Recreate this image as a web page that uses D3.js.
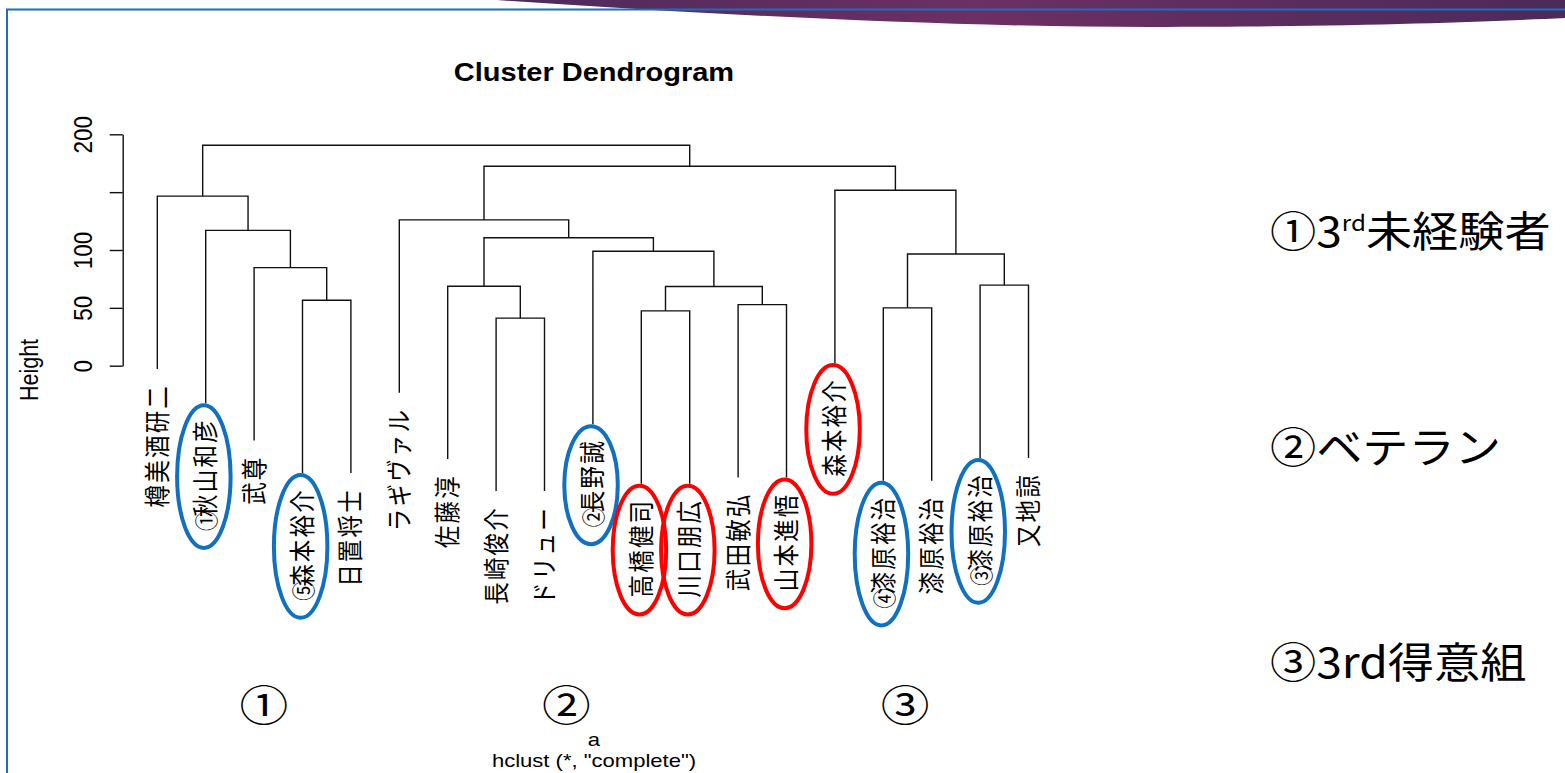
<!DOCTYPE html>
<html>
<head>
<meta charset="utf-8">
<script src="https://cdn.jsdelivr.net/npm/d3@7"></script>
<style>
  body { margin: 0; background: #fff; }
  svg { display: block; }
</style>
</head>
<body>
<div id="chart"></div>
<script>
// leaves in plotted order (1-based in mergePairs, negative = leaf)
var leafLabels = ['樽美酒研二', '①秋山和彦', '武尊', '⑤森本裕介', '日置将士',
    'ラギヴァル', '佐藤淳', '長崎俊介', 'ドリュー', '②長野誠',
    '高橋健司', '川口朋広', '武田敏弘', '山本進悟', '森本裕介',
    '④漆原裕治', '漆原裕治', '③漆原裕治', '又地諒'];

// R hclust style merge table: negative = leaf, positive = earlier merge
var mergePairs = [[-8, -9], [-11, -12], [-16, -17], [-13, -14], [-4, -5],
    [2, 4], [-7, 1], [-18, -19], [-3, 5], [3, 8],
    [-10, 6], [7, 11], [-2, 9], [-6, 12], [-1, 13],
    [-15, 10], [14, 16], [15, 17]];
var mergeHeights = [41.1, 47.4, 50.0, 52.8, 56.6,
    68.4, 68.7, 69.6, 84.8, 96.5,
    98.9, 110.6, 117.0, 126.0, 146.6,
    151.7, 172.4, 190.5];

var yTicks = [0, 50, 100, 150, 200];
var yTickLabels = ['0', '50', '100', '', '200'];

var blueRinged = [2, 4, 10, 16, 18];
var redRinged = [11, 12, 14, 15];

var groupLabels = ['①', '②', '③'];
var groupAt = [3.2, 9.45, 16.45];   // in leaf units

var sideNotes = [['①3', 'rd', '未経験者'], ['②ベテラン', '', ''], ['③3rd得意組', '', '']];

var W = 1565, H = 773;
var sx = 1.16; // the slide picture is a bit stretched sideways

var svg = d3.select('#chart').append('svg')
    .attr('width', W)
    .attr('height', H);

// slide decoration
var grad = svg.append('defs').append('linearGradient')
    .attr('id', 'swoosh')
    .attr('x1', 0).attr('x2', 1).attr('y1', 0).attr('y2', 0);
grad.append('stop').attr('offset', '0%').attr('stop-color', '#4c2a5b');
grad.append('stop').attr('offset', '45%').attr('stop-color', '#6d2f64');
grad.append('stop').attr('offset', '100%').attr('stop-color', '#4b2a5a');

svg.append('path')
    .attr('d', 'M497,0 C700,14 950,27 1150,27 C1350,27 1480,22 1565,18 L1565,0 Z')
    .attr('fill', 'url(#swoosh)');

svg.append('path')
    .attr('d', 'M7,773 V9.5 H1565')
    .attr('fill', 'none')
    .attr('stroke', '#1a6fc0')
    .attr('stroke-width', 2);

var x = d3.scaleLinear().domain([1, leafLabels.length]).range([157.3, 1028.5]);
var y = d3.scaleLinear().domain([0, 200]).range([365.7, 134.3]);

var hang = d3.max(mergeHeights) - d3.min(mergeHeights);

// node positions
var nodeX = [];
function childX(c) { return c < 0 ? x(-c) : nodeX[c - 1]; }
mergePairs.forEach(function(p, i) {
    nodeX[i] = (childX(p[0]) + childX(p[1])) / 2;
});

var leafEnd = [];
mergePairs.forEach(function(p, i) {
    p.forEach(function(c) {
        if (c < 0) leafEnd[-c] = mergeHeights[i] - hang;
    });
});

function childY(c, h) { return c < 0 ? h - hang : mergeHeights[c - 1]; }

svg.append('g')
    .selectAll('path')
    .data(mergePairs)
    .enter()
    .append('path')
    .attr('fill', 'none')
    .attr('stroke', '#111')
    .attr('stroke-width', 1.4)
    .attr('d', function(p, i) {
        var h = mergeHeights[i];
        return 'M' + childX(p[0]) + ',' + y(childY(p[0], h)) +
            'V' + y(h) + 'H' + childX(p[1]) + 'V' + y(childY(p[1], h));
    });

// leaf labels
var circled = /^[\u2460-\u2473]/;
var labels = svg.append('g')
    .selectAll('g')
    .data(leafLabels)
    .enter()
    .append('g')
    .attr('transform', function(d, i) {
        return 'translate(' + x(i + 1) + ',' + (y(leafEnd[i + 1]) + 15) + ') scale(' + sx + ',1) rotate(-90)';
    });

var labelText = labels.append('text')
    .attr('text-anchor', 'end')
    .attr('dy', '0.36em')
    .attr('font-family', '"Noto Sans CJK JP", sans-serif')
    .attr('font-size', 22.5)
    .attr('letter-spacing', 2.2)
    .attr('fill', '#000');

labelText.each(function(d) {
    var t = d3.select(this);
    if (circled.test(d)) {
        t.append('tspan').attr('font-size', 20).attr('letter-spacing', 0).text(d[0]);
        t.append('tspan').attr('dx', -6).text(d.slice(1));
    } else {
        t.text(d);
    }
});

// rings round chosen labels
var svgRect = svg.node().getBoundingClientRect();
function ring(list, colour) {
    list.forEach(function(k) {
        var r = labelText.nodes()[k - 1].getBoundingClientRect();
        svg.append('ellipse')
            .attr('cx', r.left - svgRect.left + r.width / 2)
            .attr('cy', r.top - svgRect.top + r.height / 2 + 2)
            .attr('rx', r.width / 2 + 8)
            .attr('ry', r.height / 2 + 15)
            .attr('fill', 'none')
            .attr('stroke', colour)
            .attr('stroke-width', 4);
    });
}
ring(blueRinged, '#1170c0');
ring(redRinged, '#ff0000');

// y axis
var axis = d3.axisLeft(y)
    .tickValues(yTicks)
    .tickSize(13)
    .tickSizeOuter(0)
    .tickFormat(function(d, i) { return yTickLabels[i]; });

var gAxis = svg.append('g')
    .attr('transform', 'translate(122.7,0)')
    .call(axis);
gAxis.select('.domain').attr('stroke', '#111').attr('stroke-width', 1.4);
gAxis.selectAll('.tick line').attr('stroke', '#111').attr('stroke-width', 1.4);
gAxis.selectAll('.tick text')
    .attr('dy', null)
    .attr('text-anchor', 'middle')
    .attr('transform', 'translate(-31,0) scale(' + sx + ',1) rotate(-90)')
    .attr('x', 0)
    .attr('y', 0)
    .attr('fill', '#000')
    .attr('font-family', '"Liberation Sans", Arial, sans-serif')
    .attr('font-size', 22.5);

function stretchedText(px, py, str, size, weight, family) {
    return svg.append('g')
        .attr('transform', 'translate(' + px + ',' + py + ') scale(' + sx + ',1)')
        .append('text')
        .attr('text-anchor', 'middle')
        .attr('font-family', family || '"Liberation Sans", Arial, sans-serif')
        .attr('font-size', size)
        .attr('font-weight', weight || 'normal')
        .attr('fill', '#000')
        .text(str);
}

stretchedText(594, 81, 'Cluster Dendrogram', 25, 'bold');
stretchedText(594, 746, 'a', 19);
stretchedText(594, 767, 'hclust (*, "complete")', 19);

svg.append('g')
    .attr('transform', 'translate(38,370) scale(' + sx + ',1) rotate(-90)')
    .append('text')
    .attr('text-anchor', 'middle')
    .attr('font-family', '"Liberation Sans", Arial, sans-serif')
    .attr('font-size', 21.5)
    .attr('fill', '#000')
    .text('Height');

// group marks under the tree
groupLabels.forEach(function(g, i) {
    stretchedText(x(groupAt[i]), 721, g, 42, 'normal', '"Noto Sans CJK JP", sans-serif');
});

// notes on the right
var noteY = d3.scalePoint().domain(d3.range(sideNotes.length)).range([247, 678]);
sideNotes.forEach(function(n, i) {
    var t = svg.append('g')
        .attr('transform', 'translate(1270,' + noteY(i) + ') scale(1.1,1)')
        .append('text')
        .attr('font-family', '"Noto Sans CJK JP", sans-serif')
        .attr('font-size', 42)
        .attr('fill', '#000');
    t.append('tspan').text(n[0]);
    if (n[1]) {
        t.append('tspan').attr('font-size', 22).attr('dy', -16).text(n[1]);
        t.append('tspan').attr('dy', 16).text(n[2]);
    }
});
</script>
</body>
</html>
